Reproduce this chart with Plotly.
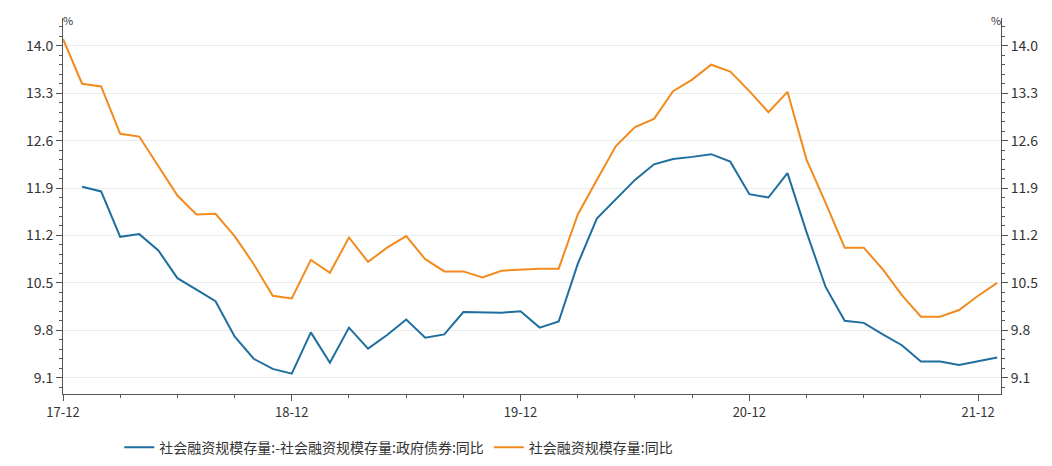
import plotly.graph_objects as go

months = ['17-12','18-01','18-02','18-03','18-04','18-05','18-06','18-07','18-08','18-09','18-10','18-11',
          '18-12','19-01','19-02','19-03','19-04','19-05','19-06','19-07','19-08','19-09','19-10','19-11',
          '19-12','20-01','20-02','20-03','20-04','20-05','20-06','20-07','20-08','20-09','20-10','20-11',
          '20-12','21-01','21-02','21-03','21-04','21-05','21-06','21-07','21-08','21-09','21-10','21-11',
          '21-12','22-01']

total = [14.1, 13.44, 13.40, 12.70, 12.66, 12.23, 11.79, 11.51, 11.52, 11.19, 10.78, 10.31,
         10.27, 10.84, 10.65, 11.17, 10.81, 11.02, 11.19, 10.85, 10.67, 10.67, 10.58, 10.68,
         10.70, 10.71, 10.71, 11.51, 12.02, 12.52, 12.80, 12.92, 13.33, 13.50, 13.72, 13.62,
         13.33, 13.02, 13.32, 12.32, 11.68, 11.02, 11.02, 10.70, 10.32, 10.00, 10.00, 10.10,
         10.31, 10.50]

ex_gov = [None, 11.92, 11.85, 11.18, 11.22, 10.98, 10.57, 10.40, 10.23, 9.71, 9.38, 9.23,
          9.16, 9.77, 9.32, 9.84, 9.53, 9.73, 9.96, 9.69, 9.74, 10.07, 10.06, 10.06,
          10.08, 9.84, 9.93, 10.78, 11.45, 11.74, 12.02, 12.25, 12.33, 12.36, 12.40, 12.29,
          11.81, 11.76, 12.12, 11.25, 10.44, 9.94, 9.91, 9.74, 9.58, 9.34, 9.34, 9.29,
          9.34, 9.40]

yticks = [9.1, 9.8, 10.5, 11.2, 11.9, 12.6, 13.3, 14.0]
xidx = list(range(len(months)))

fig = go.Figure()
fig.add_trace(go.Scatter(x=xidx, y=ex_gov, mode='lines', line=dict(color='#1f6f9e', width=2),
                         name='社会融资规模存量:-社会融资规模存量:政府债券:同比'))
fig.add_trace(go.Scatter(x=xidx, y=total, mode='lines', line=dict(color='#f28b1e', width=2),
                         name='社会融资规模存量:同比'))
# invisible trace for the right axis
fig.add_trace(go.Scatter(x=xidx, y=total, yaxis='y2', mode='lines', line=dict(width=0),
                         showlegend=False, hoverinfo='skip'))

yrange = [8.86, 14.41]
ax = dict(range=yrange, tickvals=yticks, ticktext=[f'{v:.1f}' for v in yticks],
          showline=True, linecolor='#555', ticks='outside', ticklen=6, tickcolor='#555',
          minor=dict(ticks='outside', ticklen=3, tickcolor='#555', dtick=0.14),
          tickfont=dict(size=14, color='#333'), zeroline=False, automargin=False)
fig.update_layout(
    width=1052, height=466, plot_bgcolor='white', paper_bgcolor='white',
    font=dict(family='Noto Sans CJK SC, sans-serif', color='#333'),
    margin=dict(l=55, r=59, t=10, b=66),
    xaxis=dict(range=[0, 49.2], tickvals=[0, 12, 24, 36, 48], ticktext=['17-12', '18-12', '19-12', '20-12', '21-12'],
               showline=True, linecolor='#555', ticks='outside', ticklen=6, tickcolor='#555',
               minor=dict(ticks='outside', ticklen=3, tickcolor='#555', dtick=3),
               tickfont=dict(size=13), showgrid=False, zeroline=False, automargin=False),
    yaxis=dict(**ax, showgrid=True, gridcolor='#ebebeb'),
    yaxis2=dict(**ax, overlaying='y', side='right', showgrid=False),
    legend=dict(orientation='h', x=0.06, xanchor='left', y=-0.1, yanchor='top', font=dict(size=14)),
    annotations=[dict(text='%', xref='paper', yref='paper', x=0, y=1, xanchor='center', yanchor='bottom',
                      showarrow=False, font=dict(size=11), yshift=-12, xshift=5),
                 dict(text='%', xref='paper', yref='paper', x=1, y=1, xanchor='center', yanchor='bottom',
                      showarrow=False, font=dict(size=11), yshift=-12, xshift=-5)],
)
fig.write_html('out.html')
